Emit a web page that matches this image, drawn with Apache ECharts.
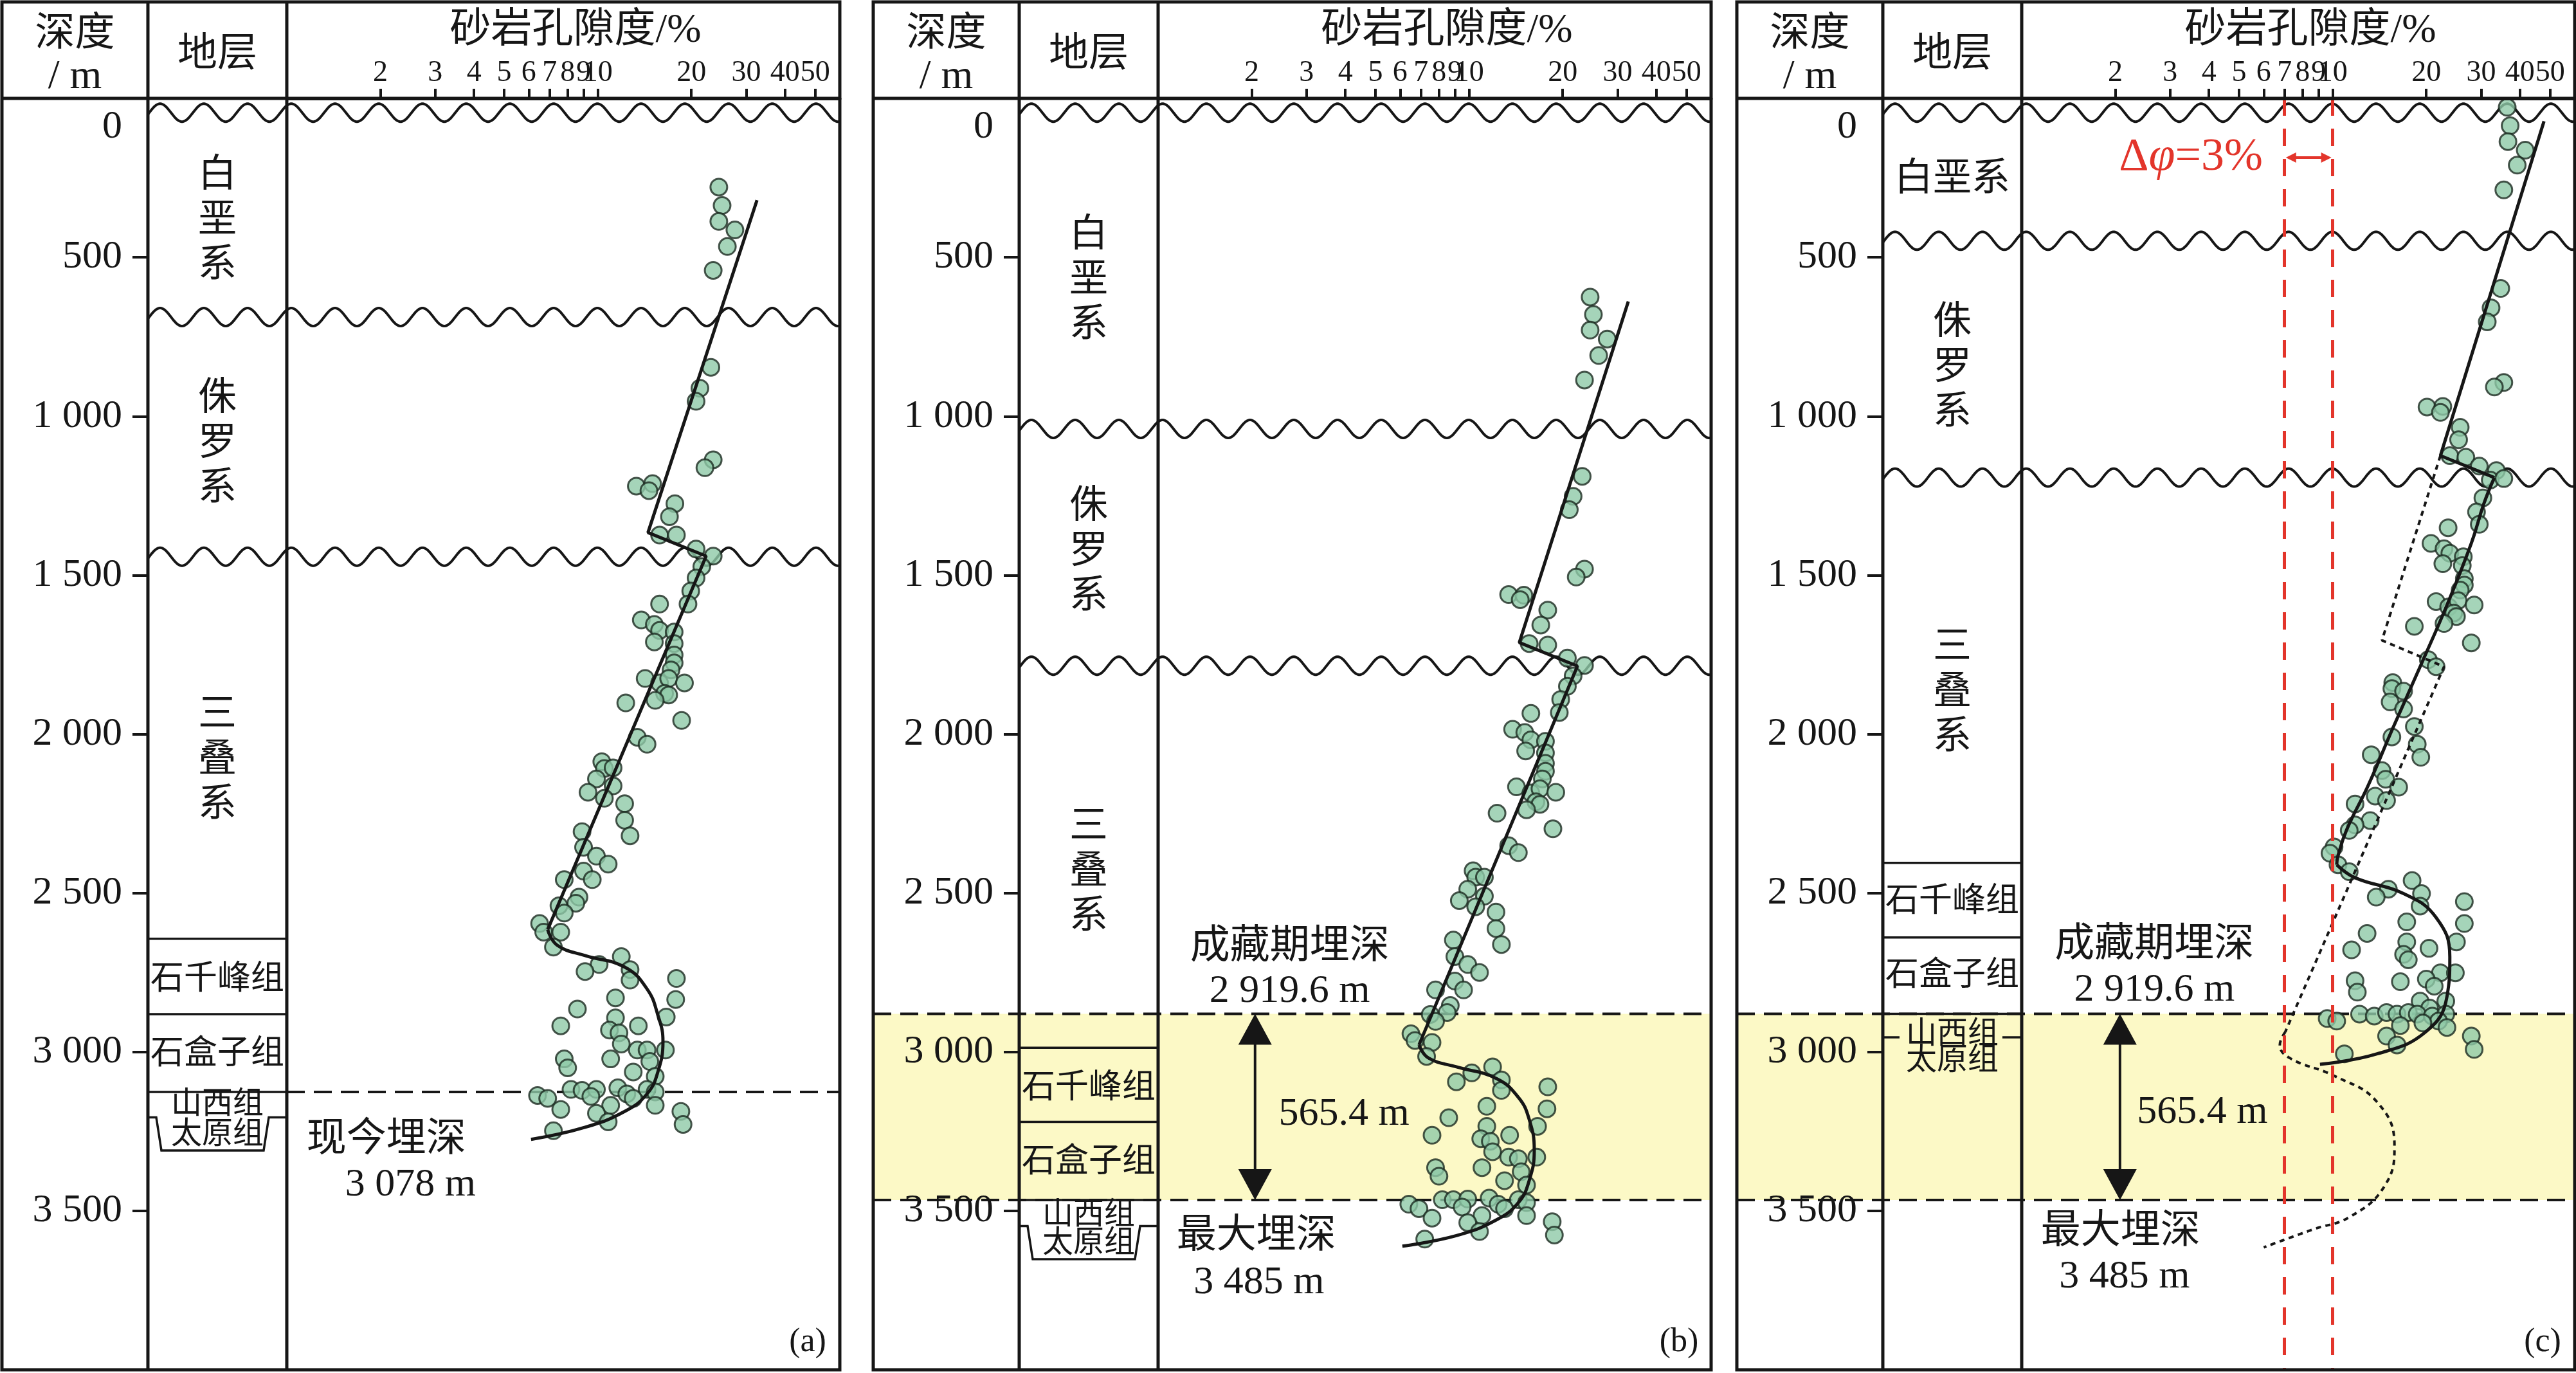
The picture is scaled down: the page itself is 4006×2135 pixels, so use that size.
<!DOCTYPE html>
<html><head><meta charset="utf-8">
<script src="https://cdn.jsdelivr.net/npm/echarts@6/dist/echarts.min.js"></script>
<style>html,body{margin:0;padding:0;background:#fff}#c{width:4006px;height:2135px}</style>
</head><body><div id="c"></div>
<script>
// ---------------- data ----------------
const porosityTicks = [2, 3, 4, 5, 6, 7, 8, 9, 10, 20, 30, 40, 50];
const depthInterval = 500;

// sandstone porosity samples [porosity %, depth m]
const pointsA = [[24.5,279],[25.1,337],[24.5,387],[27.6,414],[26.1,466],[23.5,541],
[23.1,846],[21.3,912],[20.7,953],[23.5,1137],[22.1,1162],[13.3,1220],[15.0,1212],[14.6,1234],[17.7,1275],[17.0,1316],[15.8,1374],[17.9,1374],
[20.7,1418],[23.5,1440],[21.6,1473],[20.7,1509],[19.9,1550],[19.5,1591],[15.8,1591],[13.8,1641],[15.2,1655],[15.8,1674],[17.6,1679],[15.2,1710],[17.6,1715],[17.6,1751],[17.6,1776],[17.2,1798],[14.2,1825],[15.8,1839],[16.9,1825],[19.0,1839],[16.4,1872],[16.9,1877],[15.3,1894],[12.3,1902],[18.6,1957],[13.4,2010],[14.4,2032],
[10.3,2087],[10.5,2108],[11.2,2106],[9.9,2141],[11.2,2163],[9.3,2183],[10.5,2202],[12.2,2219],[12.2,2271],[12.7,2320],[8.9,2307],[9.0,2356],[9.9,2384],[10.8,2409],[9.0,2431],[9.6,2458],[7.8,2458],[8.7,2513],[8.5,2532],[7.5,2540],[7.8,2563],[6.5,2596],[6.7,2623],[7.6,2623],[7.2,2670],
[11.9,2700],[10.1,2725],[9.1,2747],[12.7,2741],[12.7,2774],[17.9,2769],[11.4,2830],[17.8,2835],[8.6,2865],[16.6,2890],[11.4,2893],[7.6,2918],[13.5,2918],[10.9,2931],[11.7,2940],[16.5,2994],[11.9,2975],[13.4,2994],[14.4,2994],[7.8,3022],[8.0,3050],[11.0,3022],[14.7,3030],[13.0,3063],[15.3,3077],[8.2,3118],[8.9,3121],[9.9,3118],[11.6,3113],[12.4,3132],[14.4,3118],[15.3,3126],[13.0,3146],[9.5,3140],[6.4,3137],[6.9,3146],[15.3,3168],[7.6,3181],[11.0,3168],[9.9,3193],[10.8,3220],[18.5,3187],[18.8,3228],[7.2,3248]];

const pointsB = [[24.5,625],[25.1,680],[24.5,729],[27.8,757],[26.1,809],[23.5,886],
[23.1,1189],[21.6,1252],[21.0,1294],[23.5,1481],[22.1,1506],[13.4,1561],[15.0,1563],[14.6,1577],[17.9,1610],[17.0,1657],[15.6,1715],[17.9,1720],
[20.7,1761],[23.5,1784],[21.6,1817],[20.7,1850],[19.7,1891],[19.5,1932],[15.8,1935],[13.8,1985],[15.1,1995],[15.8,2018],[17.6,2023],[15.2,2053],[17.6,2059],[17.6,2092],[17.6,2117],[17.2,2141],[14.2,2166],[15.8,2185],[16.9,2172],[19.0,2183],[16.4,2213],[16.9,2221],[15.3,2238],[12.3,2249],[18.6,2298],[13.4,2351],[14.4,2373],
[10.3,2430],[10.5,2450],[11.2,2450],[9.9,2488],[11.2,2510],[9.3,2524],[10.5,2543],[12.2,2560],[12.2,2612],[12.7,2662],[8.9,2648],[9.0,2700],[9.9,2725],[10.8,2750],[9.0,2777],[9.6,2805],[7.8,2805],[8.7,2854],[8.5,2876],[7.5,2882],[7.8,2904],[6.5,2943],[6.7,2964],[7.6,2970],[7.3,3014],
[11.9,3047],[10.2,3066],[9.1,3094],[12.7,3088],[12.7,3121],[17.9,3110],[11.4,3171],[17.8,3179],[8.6,3207],[16.6,3234],[11.4,3234],[7.6,3262],[13.5,3262],[10.9,3273],[11.7,3281],[16.5,3331],[11.9,3314],[13.4,3331],[14.4,3336],[7.8,3364],[8.0,3391],[11.0,3364],[14.7,3377],[13.0,3405],[15.3,3419],[8.2,3465],[8.9,3465],[9.9,3463],[11.6,3460],[12.4,3479],[14.4,3465],[15.3,3474],[13.0,3493],[9.5,3488],[6.4,3479],[6.9,3493],[15.3,3515],[7.6,3523],[11.0,3515],[9.9,3537],[10.8,3565],[18.5,3534],[18.8,3576],[7.2,3589]];

const pointsC = [[36.4,28],[37.2,86],[36.6,136],[41.6,163],[39.2,210],[35.5,288],
[34.7,598],[32.3,659],[31.4,703],[35.5,894],[33.1,908],[20.1,971],[22.6,969],[22.2,988],[25.7,1035],[25.4,1074],[23.8,1124],[26.8,1129],[29.6,1157],[33.6,1171],[32.1,1201],[35.5,1196],[30.4,1257],[29.0,1301],[29.6,1340],[23.5,1351],[20.7,1400],[22.8,1417],[23.8,1431],[26.3,1442],[22.6,1464],[26.1,1470],[26.5,1511],[26.5,1531],[25.7,1547],[21.5,1583],[23.6,1600],[25.3,1580],[28.5,1594],[24.5,1619],[25.0,1630],[22.8,1652],[18.3,1661],[27.9,1713],[20.3,1766],[21.5,1788],[15.6,1838],[15.5,1857],[16.9,1865],[15.3,1899],[16.9,1921],[18.3,1976],[15.5,2009],[18.7,2032],[19.2,2073],[13.3,2065],[14.4,2115],[14.8,2142],[16.3,2167],[13.7,2195],[14.9,2209],[11.8,2220],[13.2,2272],[11.8,2286],[11.3,2303],[10.1,2355],[9.8,2375],[10.4,2411],[11.3,2433],
[18.0,2461],[15.1,2488],[19.3,2502],[13.8,2513],[19.1,2541],[26.5,2527],[26.5,2596],[17.3,2591],[12.9,2627],[17.3,2654],[11.5,2679],[20.4,2674],[25.0,2654],[16.9,2693],[17.5,2710],[22.2,2751],[24.8,2751],[16.5,2779],[11.8,2776],[20.0,2771],[21.2,2793],[12.0,2812],[23.1,2840],[19.1,2840],[20.5,2862],[12.2,2881],[13.6,2887],[14.9,2876],[16.1,2881],[17.5,2876],[18.7,2881],[20.9,2887],[23.1,2881],[21.9,2903],[16.5,2917],[19.5,2909],[9.6,2895],[10.3,2903],[23.3,2923],[14.9,2950],[16.1,2978],[27.9,2950],[28.5,2992],[10.9,3006]];

// trend lines [porosity %, depth m]
const trendA = [[32.5,320],[14.5,1366],[22.3,1440],[6.9,2615]];
const curveA = [[6.9,2615],[7.4,2664],[9.1,2697],[12.2,2733],[14.4,2802],[15.6,2884],[16.2,2967],[15.6,3063],[14.4,3132],[12.2,3187],[9.1,3237],[6.1,3275]];
const trendB = [[32.5,639],[14.5,1712],[22.3,1786],[6.9,2978]];
const curveB = [[6.9,2978],[7.4,3019],[9.1,3047],[12.2,3083],[14.4,3143],[15.6,3212],[16.2,3309],[15.6,3405],[14.4,3474],[12.2,3529],[9.1,3578],[6.1,3611]];
const trendC = [[47.8,72],[22.2,1124],[33.1,1193]];
const bendC = [[33.1,1193],[30.6,1276],[27.9,1400],[23.3,1594],[19.1,1788],[15.6,1982],[13.0,2162],[11.1,2300],[10.4,2383],[10.3,2411]];
const curveC = [[10.3,2411],[11.8,2452],[16.9,2502],[21.5,2577],[23.8,2701],[23.3,2826],[19.9,2937],[13.9,3006],[9.1,3039]];
const burialC = [[22.2,1124],[14.4,1705],[22.8,1788],[7.04,2937]];
const burialCurveC = [[7.04,2937],[6.76,2978],[7.3,3020],[10.1,3075],[13.9,3158],[15.8,3296],[14.7,3421],[11.4,3518],[8.6,3559],[6.0,3615]];

// unconformities (depth m)
const wavesA = [45, 688, 1442];
const wavesB = [45, 1040, 1785];
const wavesC = [45, 448, 1193];
// formation boundaries in the strata column (depth m)
const linesA = [2644, 2881, 3126];
const linesB = [2987, 3220, 3466];
const linesC = [2405, 2640, 2880];
// 太原组 outline [top, bottom]
const taiyuanA = [3206, 3310];
const taiyuanB = [3548, 3652];
const taiyuanC = [2954];
// systems / formations [depth, name]
const systemsA = [[386,'白垩系'],[1090,'侏罗系'],[2084,'三叠系']];
const systemsB = [[575,'白垩系'],[1429,'侏罗系'],[2437,'三叠系']];
const systemsC = [[257,'白垩系'],[850,'侏罗系'],[1872,'三叠系']];
const formsA = [[2774,'石千峰组'],[3009,'石盒子组'],[3168,'山西组'],[3262,'太原组']];
const formsB = [[3116,'石千峰组'],[3350,'石盒子组'],[3515,'山西组'],[3604,'太原组']];
const formsC = [[2530,'石千峰组'],[2762,'石盒子组'],[2946,'山西组'],[3030,'太原组']];
// burial depth markers
const presentDepthA = [3126];
const accumulationDepth = 2880;
const maxDepth = 3466;
const deltaPhi = [7, 10];

// ---------------- layout ----------------
const FONT = "'Liberation Serif','Noto Sans CJK SC',serif";
const INK = '#161616';
const RED = '#E3352B';
const PANEL_LEFT = [3, 1358, 2701];
const DEPTH_W = 227, STRATA_W = 216, PLOT_W = 860, PANEL_W = DEPTH_W + STRATA_W + PLOT_W;
const TOP = 3, HEAD = 153, BOTTOM = 2130;

function fmtDepth(v) {
  if (v >= 1000) return Math.floor(v / 1000) + ' ' + String(v % 1000).padStart(3, '0');
  return String(v);
}

// ---------------- render helpers ----------------
function waveItem(params, api) {
  const cs = params.coordSys;
  const yc = api.coord([0, api.value(1)])[1];
  const x0 = cs.x, x1 = cs.x + cs.width + PLOT_W;
  const pts = [];
  for (let x = x0; x <= x1; x += 2) pts.push([x, yc - 14 * Math.cos(2 * Math.PI * (x - x0 - 19) / 68)]);
  return { type: 'polyline', shape: { points: pts }, style: { stroke: INK, lineWidth: 4, fill: null } };
}
function bandItem(params, api) {
  const cs = params.coordSys;
  const y0 = api.coord([0, api.value(1)])[1];
  const y1 = api.coord([0, api.value(2)])[1];
  return { type: 'rect', shape: { x: cs.x - DEPTH_W, y: y0, width: PANEL_W, height: y1 - y0 }, style: { fill: '#FCF9C6' } };
}
function dashItemFull(params, api) {
  const cs = params.coordSys;
  const y = api.coord([0, api.value(1)])[1];
  return { type: 'line', shape: { x1: cs.x - DEPTH_W, y1: y, x2: cs.x + cs.width + PLOT_W, y2: y }, style: { stroke: INK, lineWidth: 4, lineDash: [28, 14] } };
}
function dashItemPlot(params, api) {
  const cs = params.coordSys;
  const y = api.coord([0, api.value(1)])[1];
  return { type: 'line', shape: { x1: cs.x + cs.width, y1: y, x2: cs.x + cs.width + PLOT_W, y2: y }, style: { stroke: INK, lineWidth: 4, lineDash: [28, 14] } };
}
function strataLineItem(params, api) {
  const cs = params.coordSys;
  const y = api.coord([0, api.value(1)])[1];
  return { type: 'line', shape: { x1: cs.x, y1: y, x2: cs.x + cs.width, y2: y }, style: { stroke: INK, lineWidth: 3.5 } };
}
function taiyuanItem(params, api) {
  const cs = params.coordSys;
  const yt = api.coord([0, api.value(1)])[1];
  const yb = api.coord([0, api.value(2)])[1];
  const l = cs.x, r = cs.x + cs.width;
  return { type: 'polyline', shape: { points: [[l, yt], [l + 13, yt], [l + 21, yb], [r - 36, yb], [r - 28, yt], [r, yt]] }, style: { stroke: INK, lineWidth: 3.5, fill: null } };
}
function taiyuanTickItem(params, api) {
  const cs = params.coordSys;
  const y = api.coord([0, api.value(1)])[1];
  const l = cs.x, r = cs.x + cs.width;
  return { type: 'group', children: [
    { type: 'line', shape: { x1: l, y1: y, x2: l + 26, y2: y }, style: { stroke: INK, lineWidth: 3.5 } },
    { type: 'line', shape: { x1: r - 30, y1: y, x2: r, y2: y }, style: { stroke: INK, lineWidth: 3.5 } }
  ] };
}
function labelItemFactory(list, size, horizontalFirst) {
  return function (params, api) {
    const cs = params.coordSys;
    const y = api.coord([0, api.value(1)])[1];
    const name = list[params.dataIndex][1];
    const vertical = name.length === 3 && name.endsWith('系') && !(horizontalFirst && params.dataIndex === 0);
    return { type: 'text', x: cs.x + cs.width / 2, y: y, style: {
      text: vertical ? name.split('').join('\n') : name, font: size + 'px ' + FONT, fill: INK,
      align: 'center', verticalAlign: 'middle', lineHeight: vertical ? 70 : size + 4 } };
  };
}
function annotItemFactory(list) {
  return function (params, api) {
    const p = api.coord([api.value(0), api.value(1)]);
    const a = list[params.dataIndex];
    const st = { text: a.text, font: (a.size || 62) + 'px ' + FONT, fill: a.color || INK, align: 'center', verticalAlign: 'middle' };
    if (a.rich) st.rich = a.rich;
    return { type: 'text', x: p[0], y: p[1], style: st };
  };
}
function arrowItem(params, api) {
  const a = api.coord([api.value(0), api.value(1)]);
  const b = api.coord([api.value(0), api.value(2)]);
  const x = a[0], y0 = a[1], y1 = b[1], hl = 48, hw = 26;
  return { type: 'group', children: [
    { type: 'line', shape: { x1: x, y1: y0 + hl - 4, x2: x, y2: y1 - hl + 4 }, style: { stroke: INK, lineWidth: 4 } },
    { type: 'polygon', shape: { points: [[x, y0], [x - hw, y0 + hl], [x + hw, y0 + hl]] }, style: { fill: INK } },
    { type: 'polygon', shape: { points: [[x, y1], [x - hw, y1 - hl], [x + hw, y1 - hl]] }, style: { fill: INK } }
  ] };
}
function redArrowItem(params, api) {
  const a = api.coord([api.value(0), api.value(1)]);
  const b = api.coord([api.value(2), api.value(1)]);
  const y = a[1], hl = 18, hw = 8;
  return { type: 'group', children: [
    { type: 'line', shape: { x1: a[0] + hl - 2, y1: y, x2: b[0] - hl + 2, y2: y }, style: { stroke: RED, lineWidth: 4 } },
    { type: 'polygon', shape: { points: [[a[0] + 2, y], [a[0] + hl, y - hw], [a[0] + hl, y + hw]] }, style: { fill: RED } },
    { type: 'polygon', shape: { points: [[b[0] - 2, y], [b[0] - hl, y - hw], [b[0] - hl, y + hw]] }, style: { fill: RED } }
  ] };
}

// ---------------- option building ----------------
const grids = [], xAxes = [], yAxes = [], series = [], graphics = [];
const scatterStyle = { color: '#8FC9A8', borderColor: '#1C2A20', borderWidth: 3 };

function strataCustom(p, renderItem, rows, z) {
  series.push({ type: 'custom', xAxisIndex: 2 * p, yAxisIndex: 2 * p, renderItem: renderItem, silent: true,
    clip: false, z: z || 2, encode: { x: 0, y: 1 }, data: rows.map(r => [0].concat(r)) });
}
function plotLine(p, data, dashed, smooth) {
  series.push({ type: 'line', xAxisIndex: 2 * p + 1, yAxisIndex: 2 * p + 1, data: data, showSymbol: false, symbol: 'none',
    smooth: smooth ? 0.45 : false, silent: true, z: 4, clip: false,
    lineStyle: { color: INK, width: dashed ? 4 : 5, type: dashed ? [8, 7] : 'solid' } });
}

const panels = [
  { pts: pointsA, lines: [trendA], curves: [curveA], waves: wavesA, strata: linesA, systems: systemsA, forms: formsA, tag: '(a)',
    annots: [{ x: 2.09, y: 3280, text: '现今埋深' }, { x: 2.5, y: 3418, text: '3 078 m' }] },
  { pts: pointsB, lines: [trendB], curves: [curveB], waves: wavesB, strata: linesB, systems: systemsB, forms: formsB, tag: '(b)',
    annots: [{ x: 2.65, y: 2672, text: '成藏期埋深' }, { x: 2.65, y: 2810, text: '2 919.6 m' }, { x: 3.96, y: 3197, text: '565.4 m' },
             { x: 2.07, y: 3583, text: '最大埋深' }, { x: 2.11, y: 3727, text: '3 485 m' }], arrowX: 2.05 },
  { pts: pointsC, lines: [trendC], curves: [bendC, curveC], waves: wavesC, strata: linesC, systems: systemsC, forms: formsC, tag: '(c)',
    annots: [{ x: 2.67, y: 2667, text: '成藏期埋深' }, { x: 2.67, y: 2805, text: '2 919.6 m' }, { x: 3.81, y: 3190, text: '565.4 m' },
             { x: 2.08, y: 3569, text: '最大埋深' }, { x: 2.14, y: 3708, text: '3 485 m' },
             { x: 3.5, y: 186, text: '{d|Δ}{p|φ}{d|=3%}', color: RED, size: 72,
               rich: { d: { fontSize: 72, fontFamily: 'Liberation Serif', fill: RED, color: RED },
                       p: { fontSize: 74, fontFamily: 'Liberation Serif', fontStyle: 'italic', fill: RED, color: RED } } }],
    arrowX: 2.07 }
];

panels.forEach((P, p) => {
  const L = PANEL_LEFT[p];
  grids.push({ left: L + DEPTH_W, top: HEAD, width: STRATA_W, height: BOTTOM - HEAD });
  grids.push({ left: L + DEPTH_W + STRATA_W, top: HEAD, width: PLOT_W, height: BOTTOM - HEAD });
  xAxes.push({ gridIndex: 2 * p, type: 'value', min: 0, max: 1, show: false });
  xAxes.push({ gridIndex: 2 * p + 1, type: 'log', logBase: 10, min: 1, max: 60, position: 'top', z: 5,
    axisLine: { show: true, lineStyle: { color: INK, width: 5 } },
    axisTick: { show: true, length: 15, inside: false, lineStyle: { color: INK, width: 4 }, customValues: porosityTicks },
    axisLabel: { show: true, customValues: porosityTicks, margin: 16, fontSize: 46, fontFamily: FONT, color: INK },
    splitLine: { show: false }, minorTick: { show: false } });
  yAxes.push({ gridIndex: 2 * p, type: 'value', inverse: true, min: 0, max: 4000, interval: depthInterval, position: 'left', z: 5,
    axisLine: { show: false },
    axisTick: { show: true, length: 24, lineStyle: { color: INK, width: 4 } },
    axisLabel: { show: true, margin: 40, fontSize: 62, fontFamily: FONT, color: INK, showMaxLabel: false,
      formatter: v => v === 0 ? '{z|0}' : fmtDepth(v),
      rich: { z: { padding: [90, 0, 0, 0], fontSize: 62, fontFamily: FONT, color: INK } } },
    splitLine: { show: false } });
  yAxes.push({ gridIndex: 2 * p + 1, type: 'value', inverse: true, min: 0, max: 4000, show: false });

  // burial-depth band & dashed lines
  if (p === 0) {
    strataCustom(p, dashItemPlot, presentDepthA.map(d => [d]), 3);
  } else {
    strataCustom(p, bandItem, [[accumulationDepth, maxDepth]], 1);
    strataCustom(p, dashItemFull, [[accumulationDepth], [maxDepth]], 3);
  }
  strataCustom(p, waveItem, P.waves.map(d => [d]), 3);
  strataCustom(p, strataLineItem, P.strata.map(d => [d]), 3);
  if (p === 0) strataCustom(p, taiyuanItem, [taiyuanA], 3);
  if (p === 1) strataCustom(p, taiyuanItem, [taiyuanB], 3);
  if (p === 2) strataCustom(p, taiyuanTickItem, taiyuanC.map(d => [d]), 3);
  strataCustom(p, labelItemFactory(P.systems, 60, p === 2), P.systems.map(s => [s[0]]), 6);
  strataCustom(p, labelItemFactory(P.forms.slice(0, 2), 52, false), P.forms.slice(0, 2).map(s => [s[0]]), 6);
  strataCustom(p, labelItemFactory(P.forms.slice(2), 48, false), P.forms.slice(2).map(s => [s[0]]), 6);

  // porosity samples
  const sc = { type: 'scatter', xAxisIndex: 2 * p + 1, yAxisIndex: 2 * p + 1, data: P.pts, symbol: 'circle', symbolSize: 26,
    itemStyle: scatterStyle, z: 3, silent: true };
  if (p === 2) {
    sc.markLine = { symbol: 'none', silent: true, label: { show: false }, z: 5,
      lineStyle: { color: RED, width: 5, type: [27, 20] }, data: deltaPhi.map(v => ({ xAxis: v })) };
  }
  series.push(sc);
  P.lines.forEach(l => plotLine(p, l, false, false));
  P.curves.forEach(l => plotLine(p, l, false, true));
  if (p === 2) {
    plotLine(p, burialC, true, false);
    plotLine(p, burialCurveC, true, true);
    series.push({ type: 'custom', xAxisIndex: 5, yAxisIndex: 5, renderItem: redArrowItem, silent: true, clip: false, z: 6,
      encode: { x: [0, 2], y: 1 }, data: [[deltaPhi[0], 186, deltaPhi[1]]] });
  }
  if (P.arrowX) {
    series.push({ type: 'custom', xAxisIndex: 2 * p + 1, yAxisIndex: 2 * p + 1, renderItem: arrowItem, silent: true, clip: false, z: 6,
      encode: { x: 0, y: [1, 2] }, data: [[P.arrowX, accumulationDepth, maxDepth]] });
  }
  series.push({ type: 'custom', xAxisIndex: 2 * p + 1, yAxisIndex: 2 * p + 1, renderItem: annotItemFactory(P.annots), silent: true, clip: false, z: 7,
    encode: { x: 0, y: 1 }, data: P.annots.map(a => [a.x, a.y]) });

  // frame and headers
  const fr = { stroke: INK, lineWidth: 5, fill: 'transparent' };
  graphics.push({ type: 'rect', z: 50, silent: true, shape: { x: L, y: TOP, width: PANEL_W, height: BOTTOM - TOP }, style: fr });
  graphics.push({ type: 'line', z: 50, silent: true, shape: { x1: L + DEPTH_W, y1: TOP, x2: L + DEPTH_W, y2: BOTTOM }, style: { stroke: INK, lineWidth: 5 } });
  graphics.push({ type: 'line', z: 50, silent: true, shape: { x1: L + DEPTH_W + STRATA_W, y1: TOP, x2: L + DEPTH_W + STRATA_W, y2: BOTTOM }, style: { stroke: INK, lineWidth: 5 } });
  graphics.push({ type: 'line', z: 50, silent: true, shape: { x1: L, y1: HEAD, x2: L + PANEL_W, y2: HEAD }, style: { stroke: INK, lineWidth: 5 } });
  graphics.push({ type: 'text', z: 50, silent: true, x: L + DEPTH_W / 2, y: 55, style: { text: '深度', font: '62px ' + FONT, fill: INK, align: 'center', verticalAlign: 'middle' } });
  graphics.push({ type: 'text', z: 50, silent: true, x: L + DEPTH_W / 2, y: 120, style: { text: '/ m', font: '64px ' + FONT, fill: INK, align: 'center', verticalAlign: 'middle' } });
  graphics.push({ type: 'text', z: 50, silent: true, x: L + DEPTH_W + STRATA_W / 2, y: 87, style: { text: '地层', font: '62px ' + FONT, fill: INK, align: 'center', verticalAlign: 'middle' } });
  graphics.push({ type: 'text', z: 50, silent: true, x: L + DEPTH_W + STRATA_W + 449, y: 48, style: { text: '砂岩孔隙度/%', font: '64px ' + FONT, fill: INK, align: 'center', verticalAlign: 'middle' } });
  graphics.push({ type: 'text', z: 50, silent: true, x: L + PANEL_W - 50, y: 2087, style: { text: P.tag, font: '52px ' + FONT, fill: INK, align: 'center', verticalAlign: 'middle' } });
});

const chart = echarts.init(document.getElementById('c'), null, { renderer: 'canvas', width: 4006, height: 2135 });
chart.setOption({
  backgroundColor: '#ffffff',
  animation: false,
  grid: grids, xAxis: xAxes, yAxis: yAxes, series: series,
  graphic: { elements: graphics }
});
</script></body></html>
